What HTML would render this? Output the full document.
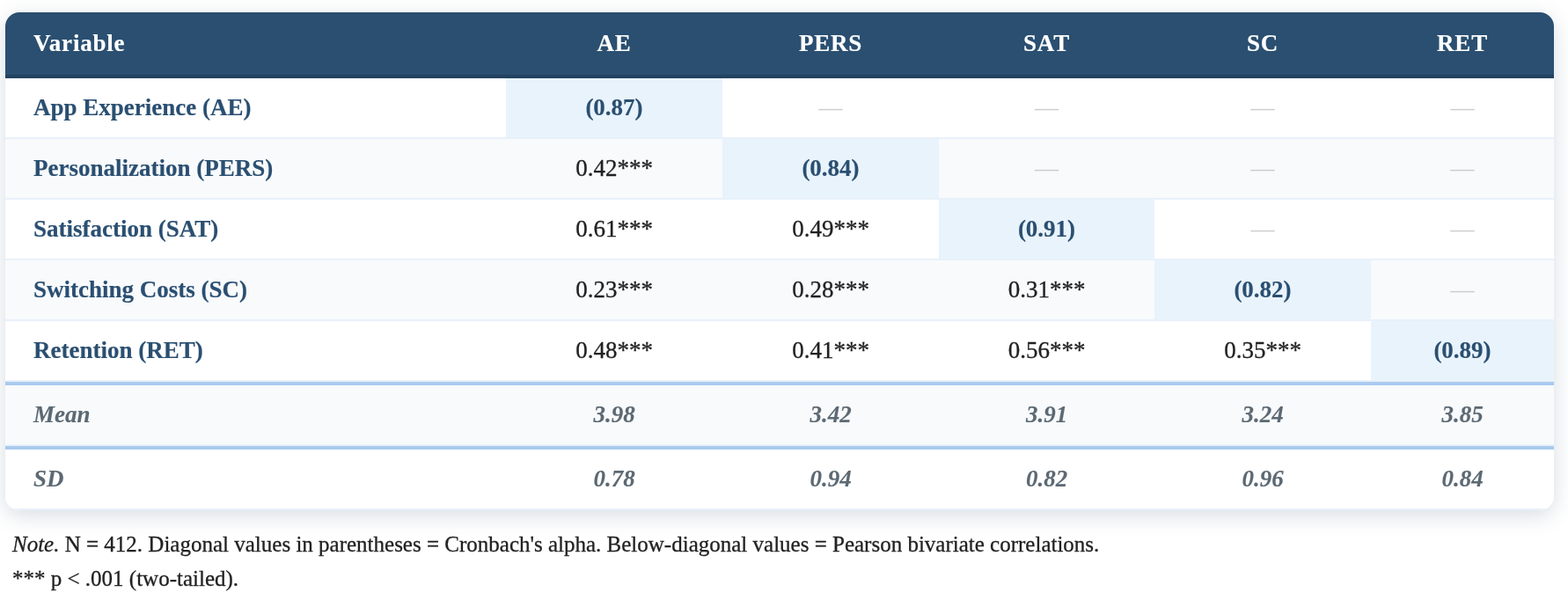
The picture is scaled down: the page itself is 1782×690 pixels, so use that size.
<!DOCTYPE html>
<html lang="en">
<head>
<meta charset="utf-8">
<title>Correlation Matrix</title>
<style>
html,body{margin:0;padding:0;background:#fff;}
body{-webkit-text-stroke:0.3px currentColor;width:1782px;height:690px;overflow:hidden;position:relative;font-family:"Liberation Serif",serif;color:#222;}
.wrap{position:absolute;left:6px;top:14px;width:1760px;height:566px;border-radius:16px;overflow:hidden;background:#fff;box-shadow:0 6px 24px rgba(42,72,108,0.19);}
table{border-collapse:separate;border-spacing:0;table-layout:fixed;width:1760px;font-size:27px;line-height:31px;}
th,td{padding:0;box-sizing:border-box;text-align:center;vertical-align:middle;white-space:nowrap;}
thead th{height:75px;background:#2a4f71;color:#fff;font-weight:bold;font-size:27px;letter-spacing:0.8px;-webkit-text-stroke:0.15px currentColor;padding-bottom:1px;border-bottom:4px solid #234260;}
th.l,td.l{text-align:left;padding-left:32px;}
tbody td{height:69px;border-bottom:2px solid #e8f1fa;background:#fff;}
tbody tr.alt td{background:#f8fafc;}
tbody td.l{font-weight:bold;color:#2a4f71;-webkit-text-stroke:0.15px currentColor;}
tbody td.d,tbody tr.alt td.d{background:#e9f3fc;font-weight:bold;color:#2a4f71;-webkit-text-stroke:0.15px currentColor;}
tbody td.n{color:#ccc;-webkit-text-stroke:0;}
tbody tr.s td{height:73px;border-top:4px solid #a9cbef;font-style:italic;font-weight:bold;color:#5c6973;-webkit-text-stroke:0.1px currentColor;}
.note{position:absolute;left:14px;top:599px;font-size:25px;line-height:39px;color:#222;white-space:nowrap;}
</style>
</head>
<body>
<div class="wrap">
<table>
<colgroup><col style="width:569px"><col style="width:246px"><col style="width:246px"><col style="width:245px"><col style="width:246px"><col style="width:208px"></colgroup>
<thead>
<tr><th class="l">Variable</th><th>AE</th><th>PERS</th><th>SAT</th><th>SC</th><th>RET</th></tr>
</thead>
<tbody>
<tr><td class="l">App Experience (AE)</td><td class="d">(0.87)</td><td class="n">—</td><td class="n">—</td><td class="n">—</td><td class="n">—</td></tr>
<tr class="alt"><td class="l">Personalization (PERS)</td><td>0.42***</td><td class="d">(0.84)</td><td class="n">—</td><td class="n">—</td><td class="n">—</td></tr>
<tr><td class="l">Satisfaction (SAT)</td><td>0.61***</td><td>0.49***</td><td class="d">(0.91)</td><td class="n">—</td><td class="n">—</td></tr>
<tr class="alt"><td class="l">Switching Costs (SC)</td><td>0.23***</td><td>0.28***</td><td>0.31***</td><td class="d">(0.82)</td><td class="n">—</td></tr>
<tr><td class="l">Retention (RET)</td><td>0.48***</td><td>0.41***</td><td>0.56***</td><td>0.35***</td><td class="d">(0.89)</td></tr>
<tr class="s alt"><td class="l">Mean</td><td>3.98</td><td>3.42</td><td>3.91</td><td>3.24</td><td>3.85</td></tr>
<tr class="s"><td class="l">SD</td><td>0.78</td><td>0.94</td><td>0.82</td><td>0.96</td><td>0.84</td></tr>
</tbody>
</table>
</div>
<div class="note"><i>Note.</i> N = 412. Diagonal values in parentheses = Cronbach's alpha. Below-diagonal values = Pearson bivariate correlations.<br>*** p &lt; .001 (two-tailed).</div>
</body>
</html>
